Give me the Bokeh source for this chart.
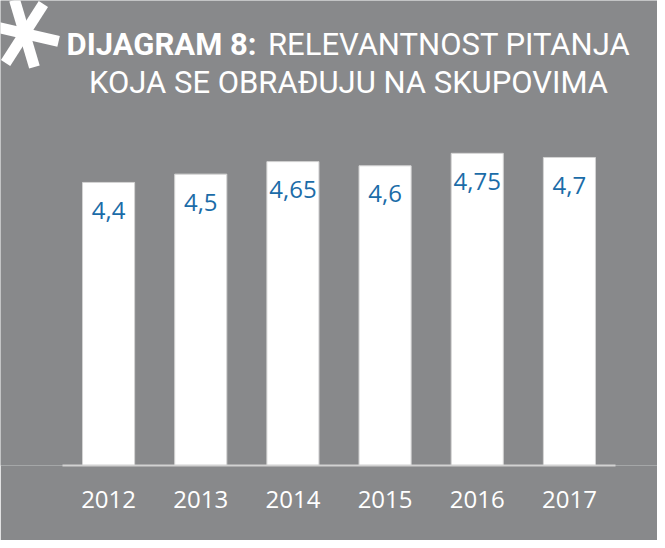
import math
from bokeh.plotting import figure
from bokeh.models import Range1d, FixedTicker
from bokeh.core.properties import value
from bokeh.embed import file_html
from bokeh.resources import INLINE

# ---- data ----
years = ["2012", "2013", "2014", "2015", "2016", "2017"]
scores = [4.4, 4.5, 4.65, 4.6, 4.75, 4.7]
score_labels = ["4,4", "4,5", "4,65", "4,6", "4,75", "4,7"]
title_bold = "DIJAGRAM 8:"
title_rest = "RELEVANTNOST PITANJA"
title_line2 = "KOJA SE OBRAĐUJU NA SKUPOVIMA"
scale_min, scale_max = 1, 5

BG = "#88898b"
BLUE = "#1b6ca8"

# ---- layout geometry (canvas pixels) ----
W, H = 657, 540
AX_BOTTOM = 465          # canvas y of the category axis
PLOT_LEFT, PLOT_RIGHT, PLOT_TOP = 62, 615, 132
n = len(years)
cat_px = (PLOT_RIGHT - PLOT_LEFT) / n
unit_px = (AX_BOTTOM - PLOT_TOP) / (scale_max - scale_min)

x0 = -0.5 - PLOT_LEFT / cat_px
x1 = n - 0.5 + (W - PLOT_RIGHT) / cat_px
y0 = scale_min
y1 = scale_max + PLOT_TOP / unit_px

def px_x(cx):
    return x0 + cx / cat_px

def px_y(cy):
    return scale_min + (AX_BOTTOM - cy) / unit_px

xpos = list(range(n))

p = figure(
    x_range=Range1d(x0, x1), y_range=Range1d(y0, y1),
    width=W, height=H,
    output_backend="svg", toolbar_location=None,
    min_border_left=0, min_border_right=0,
    min_border_top=0, min_border_bottom=H - AX_BOTTOM,
)
p.background_fill_color = BG
p.border_fill_color = BG
p.outline_line_color = None
p.xgrid.grid_line_color = None
p.ygrid.grid_line_color = None
p.yaxis.visible = False

p.vbar(x=xpos, top=scores, bottom=scale_min, width=0.565,
       fill_color="white", line_color="#d4d4d4", line_width=1)

p.text(x=xpos, y=scores, text=score_labels,
       text_font=value("Open Sans"), text_font_size="24px",
       text_color=BLUE, text_align="center", text_baseline="middle",
       y_offset=28)

ax = p.xaxis[0]
ax.ticker = FixedTicker(ticks=xpos)
ax.major_label_overrides = {i: y for i, y in zip(xpos, years)}
ax.bounds = (-0.5, n - 0.5)
ax.axis_line_color = "#d2d2d2"
ax.axis_line_width = 2
ax.major_tick_line_color = None
ax.minor_tick_line_color = None
ax.major_tick_out = 0
ax.major_tick_in = 0
ax.minor_tick_out = 0
ax.major_label_text_font = "Open Sans"
ax.major_label_text_font_size = "24px"
ax.major_label_text_color = "white"
ax.major_label_standoff = 25

# ---- title ----
title_specs = [
    (title_bold, 256, 44, "bold", "right"),
    (title_rest, 267.5, 44, "normal", "left"),
    (title_line2, 348, 81.5, "normal", "center"),
]
for txt, cx, cy, style, align in title_specs:
    p.text(x=[px_x(cx)], y=[px_y(cy)], text=[txt],
           text_font=value("Roboto"), text_font_style=style,
           text_font_size="31px", text_color="white",
           text_align=align, text_baseline="middle")

# ---- asterisk decoration (three crossing bars) ----
AST_CX, AST_CY = 24, 33
arm_angles = [-13, -73.5, -122.7]
p.rect(x=[px_x(AST_CX)] * 3, y=[px_y(AST_CY)] * 3, width=70, height=11,
       width_units="screen", height_units="screen",
       angle=arm_angles, angle_units="deg",
       fill_color="white", line_color=None)

open("out.html", "w").write(file_html(p, INLINE))
